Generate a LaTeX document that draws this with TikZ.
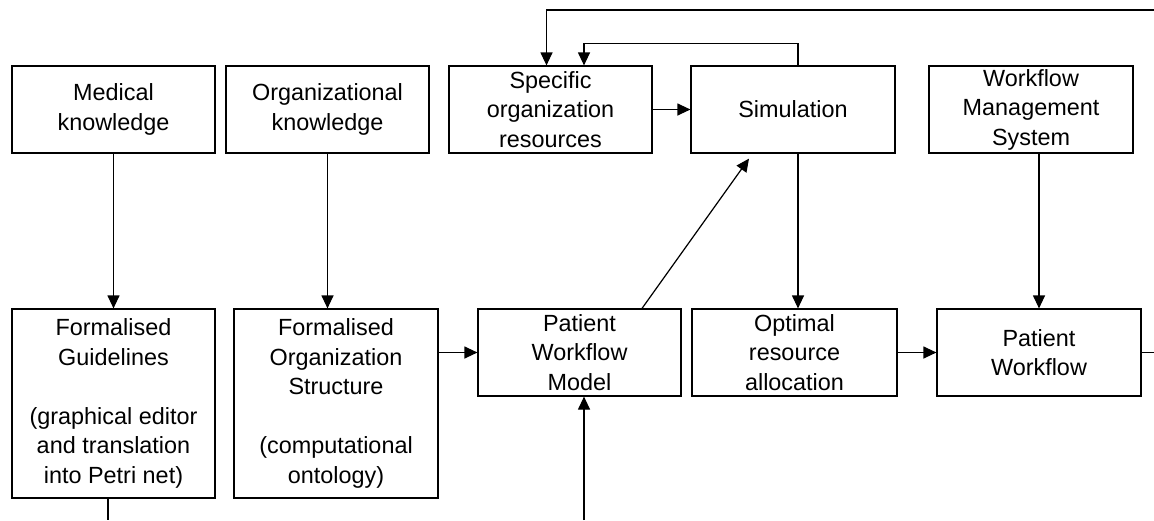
\documentclass[tikz,border=0pt]{standalone}
\usepackage{fontspec}
\setmainfont{Liberation Sans}
\usetikzlibrary{arrows.meta,calc}

\begin{document}
\begin{tikzpicture}[x=0.5pt,y=-0.5pt,
    box/.style={draw,line width=0.6pt,inner sep=0pt,minimum width=101.5pt,minimum height=43.5pt,
      align=center,font=\fontsize{11.7pt}{14.75pt}\selectfont},
    tallbox/.style={box,minimum height=94.5pt},
    flow/.style={line width=0.6pt,-{Triangle[length=6.5pt,width=6pt]}},
    plain/.style={line width=0.6pt}]
      \useasboundingbox (0,0) rectangle (1154,520);
      \node[box] (med) at (113.5,109.5) {Medical\\knowledge};
      \node[box] (org) at (327.5,109.5) {Organizational\\knowledge};
      \node[box] (spec) at (550.5,109.5) {Specific\\organization\\resources};
      \node[box,minimum width=102pt] (sim) at (793,109.5) {Simulation};
      \node[box,minimum width=102pt] (wms) at (1031,109.5) {Workflow\\Management\\System};
      \node[tallbox] (fg) at (113.5,403.5) {Formalised\\Guidelines\\[14.75pt](graphical editor\\and translation\\into Petri net)};
      \node[tallbox,minimum width=102pt] (fos) at (336,403.5) {Formalised\\Organization\\Structure\\[14.75pt](computational\\ontology)};
      \node[box] (pwm) at (579.5,352.5) {Patient\\Workflow\\Model};
      \node[box,minimum width=102.5pt] (ora) at (794.5,352.5) {Optimal\\resource\\allocation};
      \node[box,minimum width=102pt] (pw) at (1039,352.5) {Patient\\Workflow};
      \coordinate (simout) at ($(sim.south)+(5,0)$);
      \coordinate (pwout) at (1154,352.5);
      \coordinate (fgout) at (108,520);
      \coordinate (pwmin) at (584,520);
      \coordinate (topin) at (1154,10);
      \draw[flow] (med) -- (fg);
      \draw[flow] (org.south) -- (org.south |- fos.north);
      \draw[flow] (pwm.west -| fos.east) -- (pwm.west);
      \draw[flow] (spec) -- (sim);
      \draw[flow] ($(pwm.north)+(62.5,0)$) -- ($(sim.south)+(-44,5)$);
      \draw[flow] (simout) -- (simout |- ora.north);
      \draw[flow] (pw.north |- wms.south) -- (pw.north);
      \draw[flow] (ora) -- (pw);
      \draw[plain] (pw.east) -- (pwout);
      \draw[plain] (fgout |- fg.south) -- (fgout);
      \draw[flow] (pwmin) -- (pwmin |- pwm.south);
      \draw[flow] (topin) -| ($(spec.north)+(-4,0)$);
      \draw[flow] ($(sim.north)+(5,0)$) -- ++(0,-22) -| ($(spec.north)+(33.5,0)$);
    \end{tikzpicture}
\end{document}
